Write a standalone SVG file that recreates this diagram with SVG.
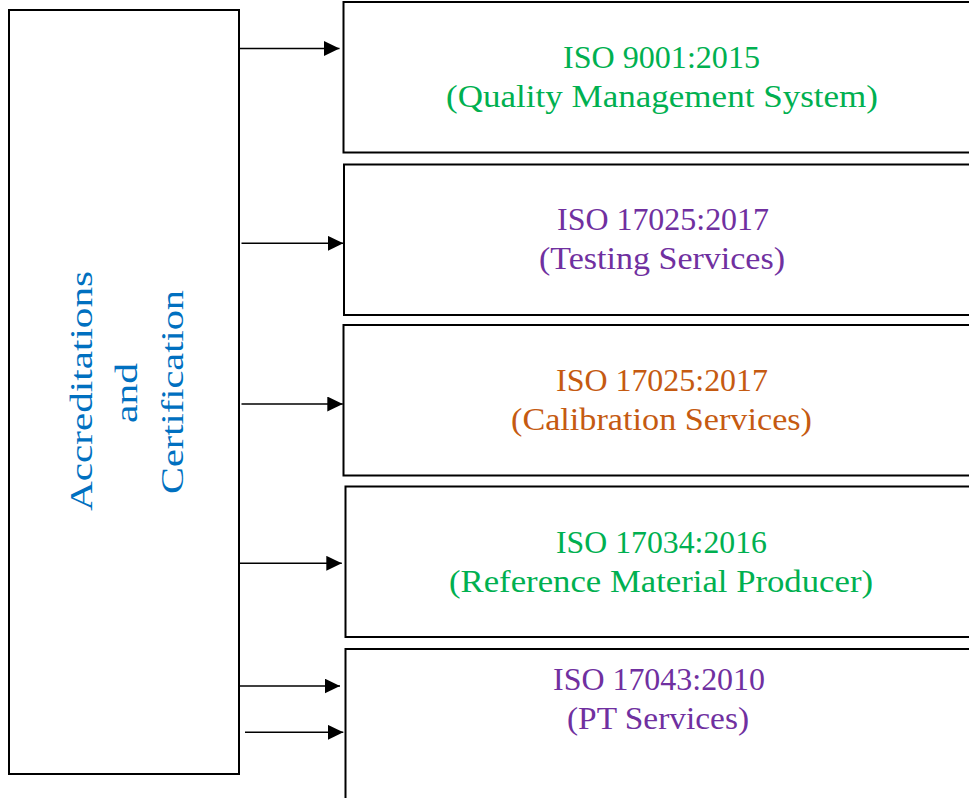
<svg xmlns="http://www.w3.org/2000/svg" width="969" height="798" viewBox="0 0 969 798">
<style>
.box{fill:#ffffff;stroke:#000000;stroke-width:2}
.t{font-family:"Liberation Serif","Times New Roman",serif;font-size:32px;text-anchor:middle}
.g{fill:#00B050}.p{fill:#7030A0}.o{fill:#C55A11}.b{fill:#0070C0}
.c{stroke:#000000;stroke-width:1.5;fill:none}
</style>
<defs>
<marker id="ah" markerUnits="userSpaceOnUse" markerWidth="16" markerHeight="16" refX="15.5" refY="7.5" orient="auto">
<path d="M0,0 L15.5,7.5 L0,15 Z" fill="#000000"/>
</marker>
</defs>
<rect width="969" height="798" fill="#ffffff"/>
<g id="left">
<rect class="box" x="9" y="10" width="230" height="764"/>
<text class="t b" transform="translate(92,391) rotate(-90)" textLength="240" lengthAdjust="spacingAndGlyphs">Accreditations</text>
<text class="t b" transform="translate(137,393) rotate(-90)" textLength="60" lengthAdjust="spacingAndGlyphs">and</text>
<text class="t b" transform="translate(183,392) rotate(-90)" textLength="204" lengthAdjust="spacingAndGlyphs">Certification</text>
</g>
<g id="iso9001">
<rect class="box" x="343.5" y="2" width="640" height="150.5"/>
<text class="t g" x="661.5" y="68" textLength="197" lengthAdjust="spacingAndGlyphs">ISO 9001:2015</text>
<text class="t g" x="662" y="107" textLength="432" lengthAdjust="spacingAndGlyphs">(Quality Management System)</text>
</g>
<g id="iso17025t">
<rect class="box" x="344" y="164.5" width="640" height="150.5"/>
<text class="t p" x="663" y="230" textLength="212" lengthAdjust="spacingAndGlyphs">ISO 17025:2017</text>
<text class="t p" x="662" y="269" textLength="246" lengthAdjust="spacingAndGlyphs">(Testing Services)</text>
</g>
<g id="iso17025c">
<rect class="box" x="343.5" y="325" width="640" height="150.5"/>
<text class="t o" x="662" y="391" textLength="212" lengthAdjust="spacingAndGlyphs">ISO 17025:2017</text>
<text class="t o" x="661.5" y="430" textLength="301" lengthAdjust="spacingAndGlyphs">(Calibration Services)</text>
</g>
<g id="iso17034">
<rect class="box" x="345.5" y="486.5" width="640" height="150.5"/>
<text class="t g" x="661.5" y="553" textLength="211" lengthAdjust="spacingAndGlyphs">ISO 17034:2016</text>
<text class="t g" x="661" y="592" textLength="424" lengthAdjust="spacingAndGlyphs">(Reference Material Producer)</text>
</g>
<g id="iso17043">
<rect class="box" x="345.5" y="649" width="640" height="160"/>
<text class="t p" x="659" y="690" textLength="212" lengthAdjust="spacingAndGlyphs">ISO 17043:2010</text>
<text class="t p" x="658" y="729" textLength="182" lengthAdjust="spacingAndGlyphs">(PT Services)</text>
</g>
<g id="connectors">
<line class="c" x1="238" y1="48.5" x2="339.5" y2="48.5" marker-end="url(#ah)"/>
<line class="c" x1="241.5" y1="243.3" x2="343.3" y2="243.3" marker-end="url(#ah)"/>
<line class="c" x1="241.5" y1="404" x2="342.8" y2="404" marker-end="url(#ah)"/>
<line class="c" x1="240" y1="563.3" x2="341.8" y2="563.3" marker-end="url(#ah)"/>
<line class="c" x1="240" y1="686" x2="340" y2="686" marker-end="url(#ah)"/>
<line class="c" x1="245" y1="732.3" x2="343.3" y2="732.3" marker-end="url(#ah)"/>
</g>
</svg>
